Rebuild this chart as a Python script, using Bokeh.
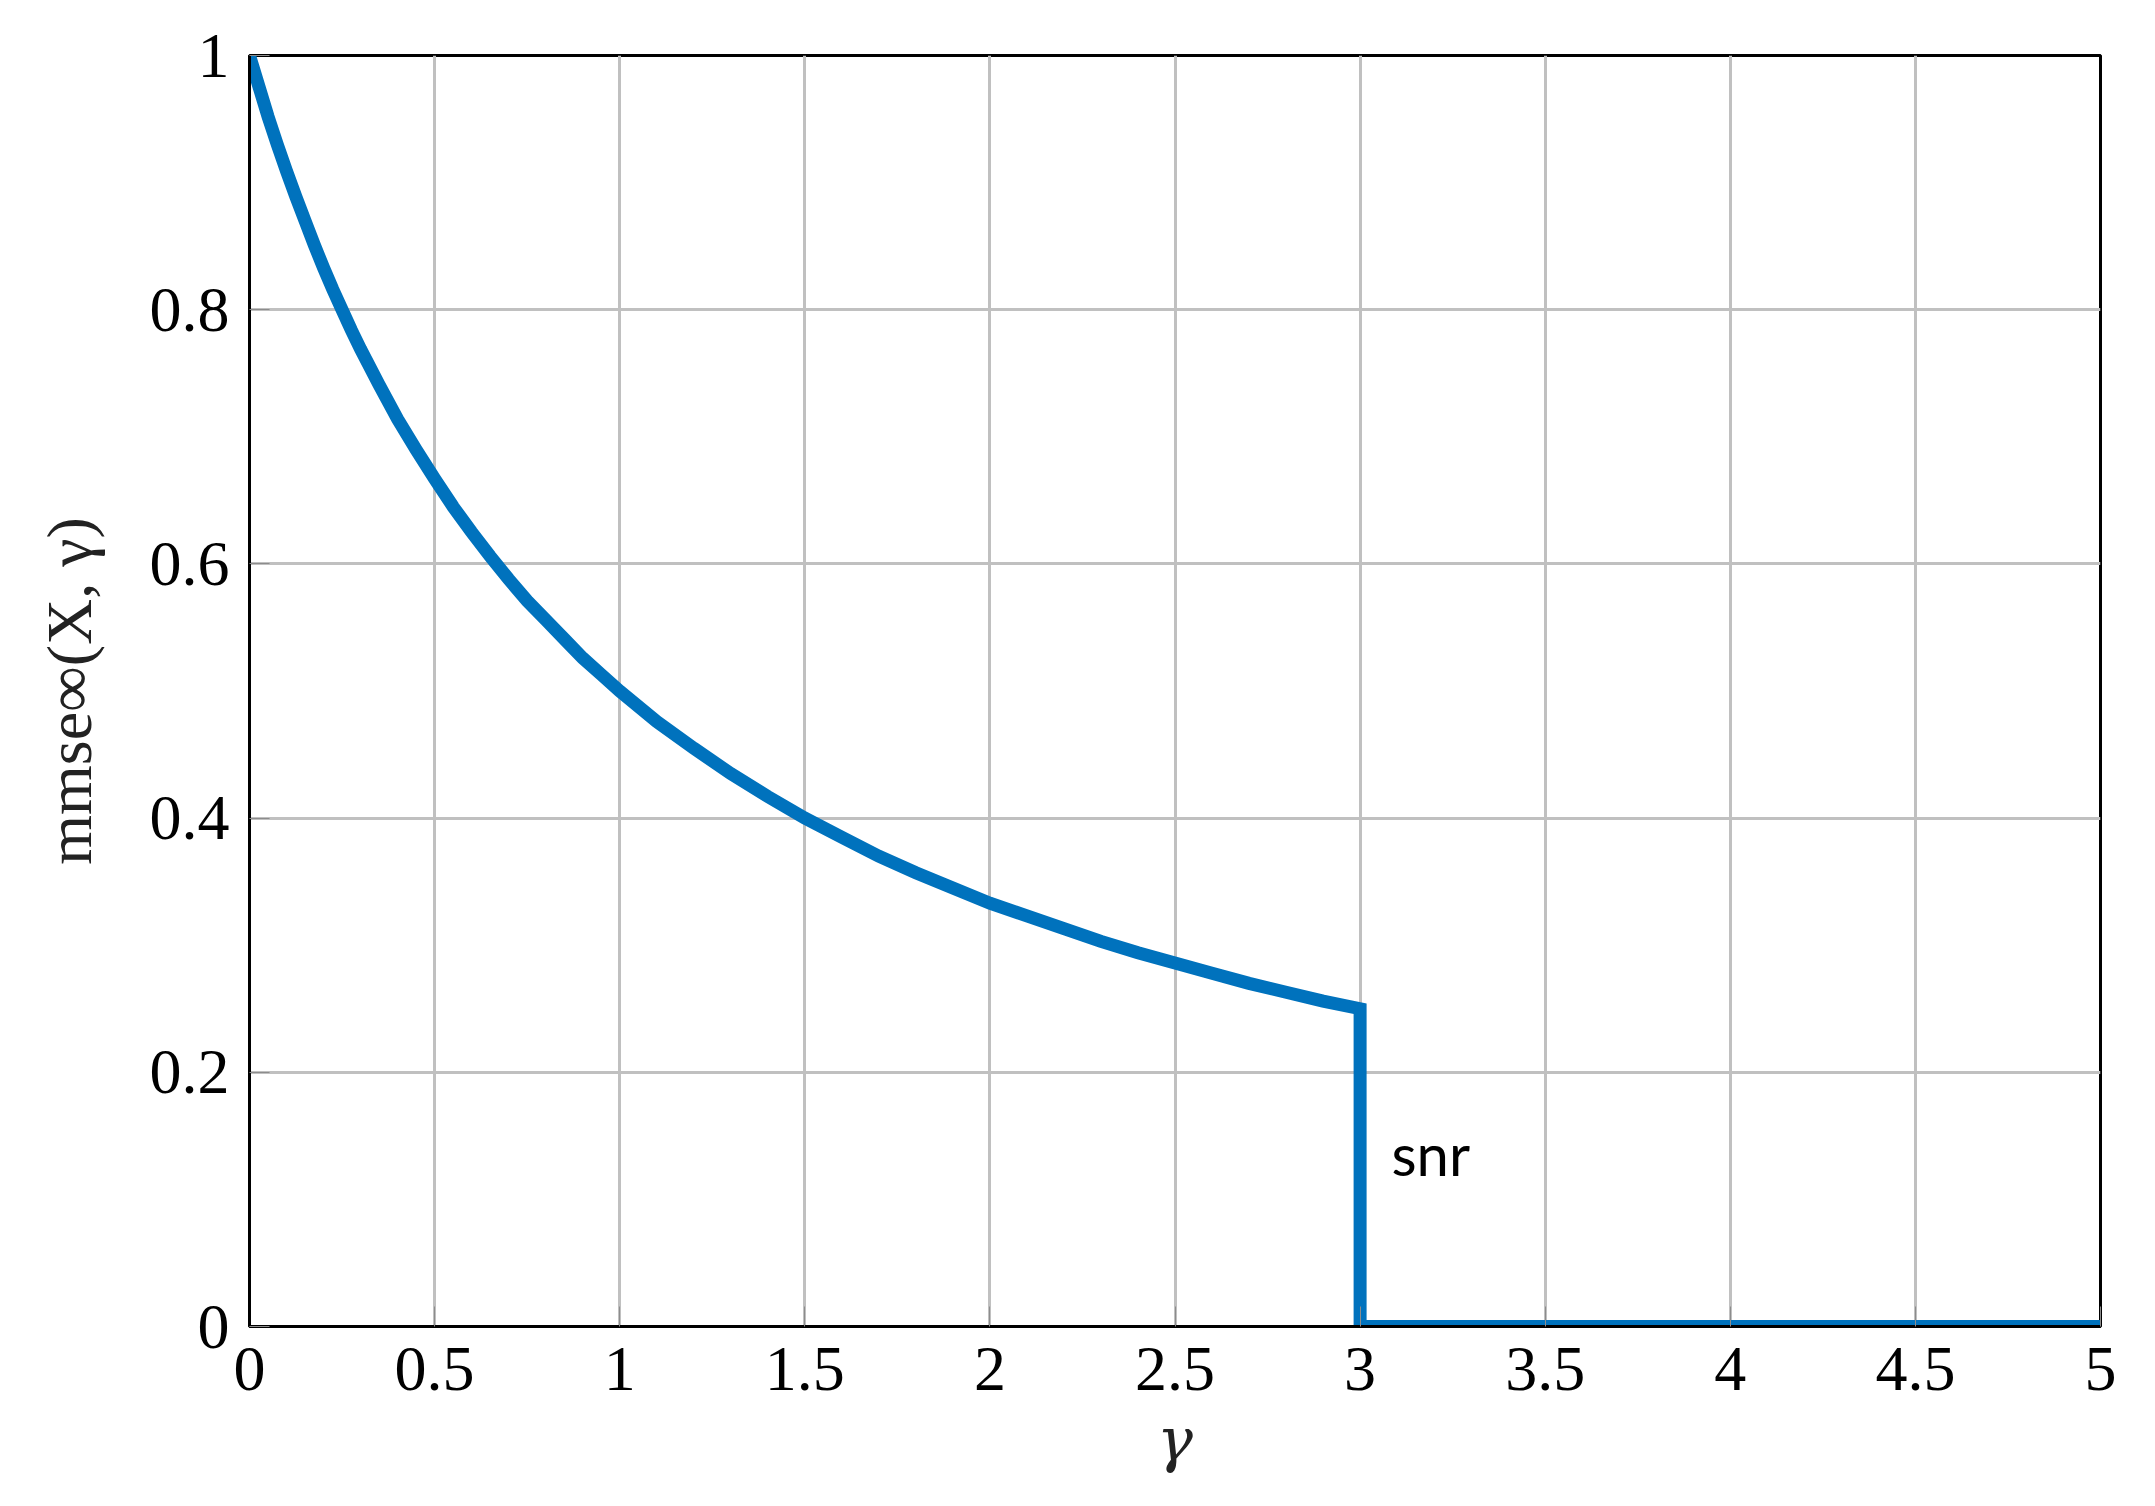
from bokeh.plotting import figure
from bokeh.models import FixedTicker, Label, Range1d
from bokeh.embed import file_html
from bokeh.resources import INLINE

# values
gamma = [0.0, 0.025, 0.05, 0.075, 0.1, 0.125, 0.15, 0.175, 0.2, 0.225, 0.25,
         0.275, 0.3, 0.35, 0.4, 0.45, 0.5, 0.55, 0.6, 0.65, 0.7, 0.75, 0.8,
         0.85, 0.9, 0.95, 1.0, 1.1, 1.2, 1.3, 1.4, 1.5, 1.6, 1.7, 1.8, 1.9,
         2.0, 2.1, 2.2, 2.3, 2.4, 2.5, 2.6, 2.7, 2.8, 2.9, 3.0, 3.0, 5.0]
mmse = [1.000, 0.976, 0.952, 0.930, 0.909, 0.889, 0.870, 0.851, 0.833, 0.816,
        0.800, 0.784, 0.769, 0.741, 0.714, 0.690, 0.667, 0.645, 0.625, 0.606,
        0.588, 0.571, 0.556, 0.541, 0.526, 0.513, 0.500, 0.476, 0.455, 0.435,
        0.417, 0.400, 0.385, 0.370, 0.357, 0.345, 0.333, 0.323, 0.313, 0.303,
        0.294, 0.286, 0.278, 0.270, 0.263, 0.256, 0.250, 0.0, 0.0]

x_ticks = [0, 0.5, 1, 1.5, 2, 2.5, 3, 3.5, 4, 4.5, 5]
x_tick_labels = ["0", "0.5", "1", "1.5", "2", "2.5", "3", "3.5", "4", "4.5", "5"]
y_ticks = [0, 0.2, 0.4, 0.6, 0.8, 1]
y_tick_labels = ["0", "0.2", "0.4", "0.6", "0.8", "1"]

SERIF = "Liberation Serif"
BLUE = "#0072BD"

p = figure(frame_width=1851, frame_height=1271,
           min_border_left=249, min_border_right=47,
           min_border_top=55, min_border_bottom=172,
           x_range=Range1d(0, 5), y_range=Range1d(0, 1),
           output_backend="svg", toolbar_location=None)

p.background_fill_color = "white"
p.border_fill_color = "white"
p.outline_line_color = "black"
p.outline_line_width = 3

for ax, ticks, labels in ((p.xaxis[0], x_ticks, x_tick_labels),
                          (p.yaxis[0], y_ticks, y_tick_labels)):
    ax.ticker = FixedTicker(ticks=ticks)
    ax.major_label_overrides = {t: l for t, l in zip(ticks, labels)}
    ax.axis_line_color = "black"
    ax.axis_line_width = 3
    ax.major_tick_in = 20
    ax.major_tick_out = 0
    ax.major_tick_line_color = "#8c8c8c"
    ax.major_tick_line_width = 1
    ax.minor_tick_line_color = None
    ax.major_label_text_font = SERIF
    ax.major_label_text_font_size = "64px"
    ax.major_label_text_color = "black"
    ax.axis_label_text_font = SERIF
    ax.axis_label_text_font_size = "64px"
    ax.axis_label_text_color = "#222222"

p.xaxis.major_label_standoff = 21
p.yaxis.major_label_standoff = 20

p.xaxis.axis_label = "γ"
p.xaxis.axis_label_text_font = "DejaVu Serif"
p.xaxis.axis_label_text_font_size = "60px"
p.xaxis.axis_label_text_font_style = "italic"
p.xaxis.axis_label_standoff = 12

p.yaxis.axis_label = "mmse∞(X, γ)"
p.yaxis.axis_label_text_font_style = "normal"
p.yaxis.axis_label_standoff = 42

p.grid.grid_line_color = "#c0c0c0"
p.grid.grid_line_width = 3
p.xgrid.ticker = FixedTicker(ticks=x_ticks)
p.ygrid.ticker = FixedTicker(ticks=y_ticks)

p.line(gamma, mmse, line_color=BLUE, line_width=13, line_join="miter")

p.add_layout(Label(x=1142, y=173, x_units="screen", y_units="screen",
                   text="snr", text_font="Lato", text_font_size="58px",
                   text_color="black", text_align="left",
                   text_baseline="alphabetic"))

open("out.html", "w").write(file_html(p, INLINE))
